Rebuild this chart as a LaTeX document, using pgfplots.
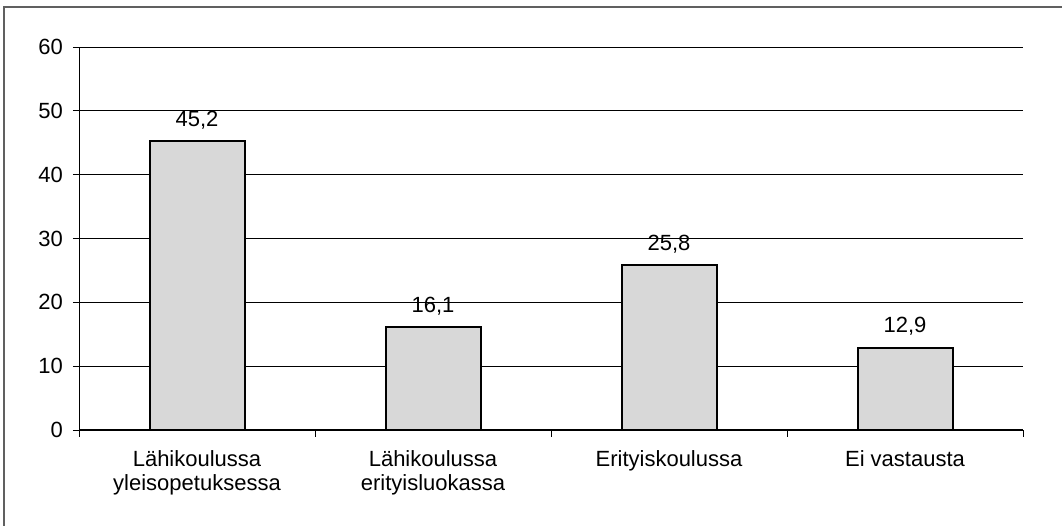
\documentclass[border=0pt]{standalone}
\usepackage{fontspec}
\setmainfont{Liberation Sans}
\usepackage{pgfplots}
\pgfplotsset{compat=1.18}
\definecolor{barfill}{RGB}{216,216,216}
\definecolor{framegray}{RGB}{96,96,96}
\begin{document}
\begin{tikzpicture}[x=1pt,y=1pt]
% page extent and the visible edges of the chart frame
\path[use as bounding box] (-79,-96) rectangle (983,430);
\draw[framegray, line width=1.5pt] (-75,-96) -- (-75,423) -- (983,423);
\begin{axis}[
  at={(0,0)}, anchor=south west,
  scale only axis, width=944pt, height=383pt,
  xmin=-0.5, xmax=3.5, ymin=0, ymax=60,
  axis x line*=bottom, axis y line*=left,
  axis line style={-, black, line width=1pt},
  ytick={0,10,...,60},
  ymajorgrids, grid style={black, line width=0.8pt},
  xtick={0,1,2,3},
  xticklabels={{Lähikoulussa\\yleisopetuksessa},{Lähikoulussa\\erityisluokassa},{Erityiskoulussa},{Ei vastausta}},
  minor xtick={-0.5,0.5,1.5,2.5,3.5},
  tick align=outside,
  major tick length=6pt, minor tick length=7pt,
  x tick style={draw=none},
  minor x tick style={draw=black, line width=0.8pt},
  y tick style={black, line width=0.8pt},
  /pgf/number format/assume math mode=true,
  tick label style={font=\fontsize{22}{24}\selectfont},
  xticklabel style={align=center, anchor=north, inner sep=0pt, yshift=-14pt},
  yticklabel style={anchor=east, inner sep=0pt, xshift=-10pt},
  nodes near coords,
  nodes near coords style={/pgf/number format/use comma, /pgf/number format/fixed,
    /pgf/number format/precision=1, /pgf/number format/fixed zerofill},
  every node near coord/.append style={font=\fontsize{22}{24}\selectfont, anchor=base, inner sep=0pt, yshift=15pt},
]
\addplot[ybar, bar width=95pt, fill=barfill, draw=black, line width=2pt]
  coordinates {(0,45.2) (1,16.1) (2,25.8) (3,12.9)};
\end{axis}
\end{tikzpicture}
\end{document}
